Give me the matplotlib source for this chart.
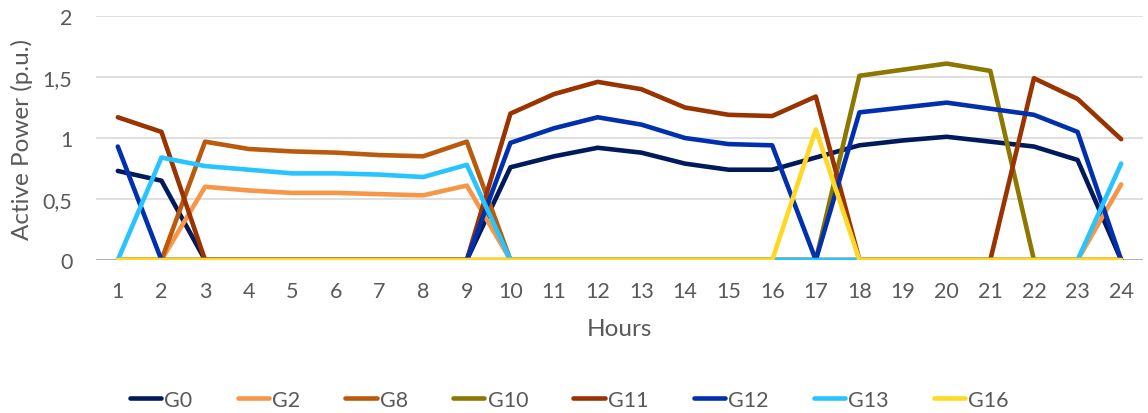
import matplotlib
matplotlib.use("Agg")
import matplotlib.pyplot as plt
from matplotlib.ticker import FuncFormatter

plt.rcParams['font.family'] = ['Lato', 'DejaVu Sans']

hours = list(range(1, 25))

# generator outputs per hour (p.u.)
g0 = [0.73, 0.65, 0, 0, 0, 0, 0, 0, 0, 0.76, 0.85, 0.92, 0.88, 0.79, 0.74, 0.74,
      0.84, 0.94, 0.98, 1.01, 0.97, 0.93, 0.82, 0]
g2 = [0, 0, 0.60, 0.57, 0.55, 0.55, 0.54, 0.53, 0.61, 0, 0, 0, 0, 0, 0, 0,
      0, 0, 0, 0, 0, 0, 0, 0.62]
g8 = [0, 0, 0.97, 0.91, 0.89, 0.88, 0.86, 0.85, 0.97, 0, 0, 0, 0, 0, 0, 0,
      0, 0, 0, 0, 0, 0, 0, 0]
g10 = [0, 0, 0, 0, 0, 0, 0, 0, 0, 0, 0, 0, 0, 0, 0, 0,
       0, 1.51, 1.56, 1.61, 1.55, 0, 0, 0]
g11 = [1.17, 1.05, 0, 0, 0, 0, 0, 0, 0, 1.20, 1.36, 1.46, 1.40, 1.25, 1.19, 1.18,
       1.34, 0, 0, 0, 0, 1.49, 1.32, 0.99]
g12 = [0.93, 0, 0, 0, 0, 0, 0, 0, 0, 0.96, 1.08, 1.17, 1.11, 1.00, 0.95, 0.94,
       0, 1.21, 1.25, 1.29, 1.24, 1.19, 1.05, 0]
g13 = [0, 0.84, 0.77, 0.74, 0.71, 0.71, 0.70, 0.68, 0.78, 0, 0, 0, 0, 0, 0, 0,
       0, 0, 0, 0, 0, 0, 0, 0.79]
g16 = [0, 0, 0, 0, 0, 0, 0, 0, 0, 0, 0, 0, 0, 0, 0, 0,
       1.07, 0, 0, 0, 0, 0, 0, 0]

series = [("G0", g0, "#001a5c"), ("G2", g2, "#f79646"), ("G8", g8, "#bb5a0c"),
          ("G10", g10, "#8c7800"), ("G11", g11, "#993300"), ("G12", g12, "#0030ae"),
          ("G13", g13, "#28c4ff"), ("G16", g16, "#ffd823")]

fig = plt.figure(figsize=(11.48, 4.14), dpi=100)
ax = fig.add_axes([96 / 1148, 1 - 261 / 414, (1143 - 96) / 1148, (261 - 17) / 414])

for name, vals, col in series:
    ax.plot(hours, vals, color=col, lw=3.3, label=name,
            solid_capstyle='round', solid_joinstyle='round', zorder=3)

ax.set_xlim(0.5, 24.5)
ax.set_ylim(0, 2)
ax.set_xticks(hours)
ax.set_yticks([0, 0.5, 1, 1.5, 2])
ax.yaxis.set_major_formatter(FuncFormatter(lambda v, p: f"{v:g}".replace(".", ",")))
ax.grid(axis='y', color='#d9d9d9', lw=1.2)
ax.set_axisbelow(True)
for s in ax.spines.values():
    s.set_visible(False)
ax.axhline(0, color='#a6a6a6', lw=1.2, zorder=2)
ax.tick_params(length=0, labelsize=15.5, colors='#595959')
ax.tick_params(axis='x', pad=15)
ax.tick_params(axis='y', pad=17)

ax.set_xlabel("Hours", fontsize=17.5, color='#595959', labelpad=12)
ax.set_ylabel("Active Power (p.u.)", fontsize=17.5, color='#595959', labelpad=7)

fig.legend(loc='center', bbox_to_anchor=(0.496, 1 - 401 / 414), ncol=8, frameon=False,
           fontsize=15.5, labelcolor='#595959', handlelength=1.45, columnspacing=2.1,
           handletextpad=0.15)

fig.savefig("out.png", dpi=100)
